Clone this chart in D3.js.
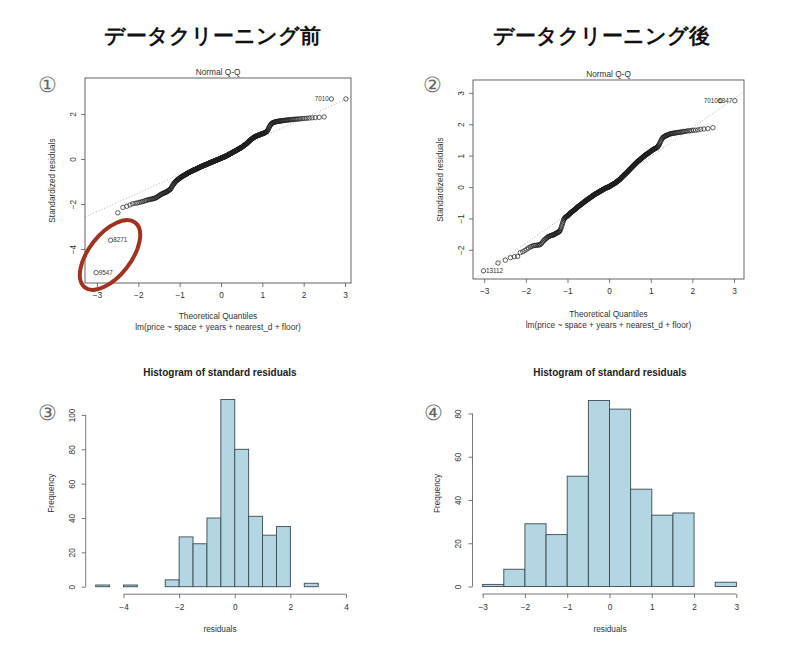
<!DOCTYPE html>
<html><head><meta charset="utf-8">
<script src="https://cdn.jsdelivr.net/npm/d3@7"></script>
<style>
body{margin:0;background:#fff}
svg{display:block}
text{font-family:"Liberation Sans",Arial,sans-serif}
</style>
</head><body>
<svg id="chart" width="800" height="650"></svg>
<script>
// ---------- DATA ----------
const panelTitles = ["データクリーニング前", "データクリーニング後"];
const panelNumbers = ["①", "②", "③", "④"];

// sorted standardized residuals, before cleaning (n = 397)
const residualsBefore = [
-5.05,-3.61,-2.39,-2.15,-2.10,-2.04,-1.99,-1.97,-1.95,-1.93,
-1.91,-1.89,-1.87,-1.85,-1.83,-1.81,-1.80,-1.79,-1.78,-1.77,
-1.76,-1.75,-1.73,-1.71,-1.69,-1.66,-1.63,-1.61,-1.59,-1.57,
-1.55,-1.53,-1.52,-1.51,-1.50,-1.48,-1.47,-1.46,-1.44,-1.42,
-1.40,-1.38,-1.37,-1.35,-1.32,-1.28,-1.24,-1.20,-1.16,-1.13,
-1.10,-1.07,-1.04,-1.01,-0.99,-0.97,-0.95,-0.93,-0.92,-0.90,
-0.89,-0.88,-0.86,-0.85,-0.83,-0.82,-0.81,-0.79,-0.78,-0.77,
-0.76,-0.75,-0.74,-0.73,-0.72,-0.71,-0.70,-0.69,-0.68,-0.67,
-0.66,-0.65,-0.64,-0.63,-0.62,-0.61,-0.60,-0.60,-0.59,-0.58,
-0.57,-0.56,-0.56,-0.55,-0.54,-0.53,-0.53,-0.52,-0.51,-0.50,
-0.50,-0.49,-0.49,-0.48,-0.47,-0.47,-0.46,-0.45,-0.45,-0.44,
-0.43,-0.43,-0.42,-0.41,-0.41,-0.40,-0.39,-0.39,-0.38,-0.37,
-0.37,-0.36,-0.35,-0.35,-0.34,-0.34,-0.33,-0.32,-0.32,-0.31,
-0.31,-0.30,-0.30,-0.29,-0.29,-0.28,-0.28,-0.27,-0.27,-0.26,
-0.26,-0.25,-0.25,-0.24,-0.24,-0.23,-0.22,-0.22,-0.21,-0.21,
-0.20,-0.20,-0.19,-0.19,-0.18,-0.18,-0.17,-0.17,-0.16,-0.16,
-0.15,-0.15,-0.14,-0.14,-0.13,-0.13,-0.12,-0.12,-0.11,-0.11,
-0.10,-0.10,-0.09,-0.09,-0.08,-0.08,-0.07,-0.07,-0.06,-0.06,
-0.05,-0.05,-0.04,-0.04,-0.03,-0.03,-0.03,-0.02,-0.02,-0.01,
-0.01,0.00,0.00,0.01,0.01,0.02,0.02,0.03,0.03,
0.04,0.04,0.05,0.05,0.06,0.06,0.07,0.07,0.08,0.08,
0.09,0.09,0.10,0.10,0.11,0.11,0.12,0.13,0.13,0.14,
0.14,0.15,0.16,0.16,0.17,0.17,0.18,0.19,0.19,0.20,
0.21,0.21,0.22,0.23,0.23,0.24,0.25,0.25,0.26,0.27,
0.27,0.28,0.29,0.29,0.30,0.31,0.31,0.32,0.33,0.33,
0.34,0.35,0.35,0.36,0.37,0.37,0.38,0.39,0.39,0.40,
0.41,0.42,0.42,0.43,0.44,0.45,0.45,0.46,0.47,0.48,
0.48,0.49,0.50,0.51,0.51,0.52,0.53,0.54,0.55,0.56,
0.57,0.58,0.59,0.60,0.61,0.62,0.63,0.64,0.65,0.66,
0.67,0.68,0.70,0.71,0.72,0.74,0.75,0.76,0.78,0.79,
0.80,0.82,0.83,0.84,0.85,0.87,0.88,0.89,0.90,0.92,
0.93,0.94,0.95,0.96,0.97,0.98,0.99,1.00,1.01,1.02,
1.02,1.03,1.04,1.04,1.05,1.06,1.06,1.07,1.08,1.09,
1.09,1.10,1.11,1.11,1.12,1.13,1.13,1.14,1.15,1.16,
1.17,1.18,1.19,1.20,1.22,1.24,
1.27,1.31,1.36,1.41,1.45,
1.49,1.53,1.56,1.58,1.60,
1.61,1.62,1.63,1.64,1.65,
1.66,1.66,1.67,1.67,1.68,
1.68,1.69,1.69,1.70,1.70,
1.71,1.71,1.72,1.72,1.73,
1.73,1.74,1.74,1.75,1.75,
1.76,1.76,1.77,1.77,1.78,
1.78,1.79,1.80,1.80,1.81,
1.82,1.83,1.84,1.85,1.87,
2.67,2.67
];

// sorted standardized residuals, after cleaning (n = 395)
const residualsAfter = [
-2.67,-2.42,-2.33,-2.25,-2.22,-2.21,-2.09,-2.06,-2.02,-1.98,
-1.94,-1.91,-1.89,-1.87,-1.86,-1.86,-1.85,-1.85,-1.84,-1.83,
-1.80,-1.76,-1.72,-1.69,-1.67,-1.64,-1.62,-1.60,-1.58,-1.57,
-1.56,-1.55,-1.54,-1.54,-1.53,-1.52,-1.52,-1.51,
-1.49,-1.48,-1.47,-1.46,-1.45,-1.44,-1.43,
-1.42,-1.40,-1.37,-1.33,-1.28,
-1.23,-1.18,-1.13,-1.08,-1.04,
-1.01,-0.99,-0.97,-0.96,-0.95,-0.94,-0.93,
-0.92,-0.91,-0.90,-0.88,-0.87,-0.85,-0.84,-0.83,
-0.82,-0.81,-0.80,-0.79,-0.78,-0.77,-0.76,-0.75,-0.74,-0.73,
-0.72,-0.71,-0.70,-0.69,-0.68,-0.67,-0.66,-0.65,-0.64,-0.63,
-0.62,-0.61,-0.61,-0.60,-0.59,-0.58,-0.57,-0.56,-0.56,-0.55,
-0.54,-0.53,-0.52,-0.52,-0.51,-0.50,-0.49,-0.48,-0.48,-0.47,
-0.46,-0.45,-0.45,-0.44,-0.43,-0.42,-0.42,-0.41,-0.40,-0.40,
-0.39,-0.38,-0.38,-0.37,-0.36,-0.36,-0.35,-0.34,-0.34,-0.33,
-0.32,-0.32,-0.31,-0.30,-0.30,-0.29,-0.28,-0.28,-0.27,-0.26,
-0.26,-0.25,-0.25,-0.24,-0.23,-0.23,-0.22,-0.22,-0.21,-0.21,
-0.20,-0.20,-0.19,-0.19,-0.18,-0.18,-0.17,-0.17,-0.16,-0.16,
-0.15,-0.15,-0.14,-0.14,-0.13,-0.13,-0.12,-0.12,-0.11,-0.11,
-0.10,-0.10,-0.09,-0.09,-0.08,-0.08,-0.07,-0.07,-0.06,-0.06,
-0.05,-0.05,-0.04,-0.04,-0.04,-0.03,-0.03,-0.02,-0.02,-0.02,
-0.01,-0.01,-0.01,0.00,0.00,0.00,0.01,0.01,0.02,
0.02,0.03,0.03,0.04,0.04,0.05,0.05,0.06,0.06,0.07,
0.07,0.08,0.08,0.09,0.09,0.10,0.10,0.11,0.11,0.12,
0.12,0.13,0.14,0.14,0.15,0.15,0.16,0.17,0.17,0.18,
0.19,0.19,0.20,0.21,0.21,0.22,0.23,0.24,0.24,0.25,
0.26,0.27,0.28,0.29,0.30,0.31,0.31,0.32,0.33,0.34,
0.35,0.36,0.37,0.38,0.38,0.39,0.40,0.41,0.42,0.43,
0.44,0.44,0.45,0.46,0.47,0.48,0.49,0.50,0.51,0.52,
0.53,0.54,0.55,0.56,0.57,0.58,0.59,0.60,0.61,0.62,
0.63,0.64,0.65,0.66,0.67,0.68,0.69,0.70,0.71,0.72,
0.73,0.74,0.75,0.76,0.77,0.78,0.79,0.80,0.81,0.82,
0.83,0.84,0.85,0.85,0.86,0.87,0.88,0.89,0.90,0.91,
0.92,0.93,0.94,0.95,0.96,0.97,0.98,0.99,1.00,1.01,
1.02,1.03,1.04,1.05,1.05,1.06,1.07,1.08,1.09,1.10,
1.11,1.12,1.13,1.14,1.15,1.16,1.17,1.18,1.19,1.20,
1.21,1.22,1.22,1.23,1.24,1.25,1.26,1.28,1.30,1.32,
1.35,1.38,1.42,1.46,1.50,1.53,
1.56,1.58,1.60,1.61,1.62,1.63,
1.64,1.65,1.66,1.67,1.68,1.69,
1.70,1.70,1.71,1.71,1.72,1.72,
1.73,1.73,1.74,1.74,1.75,1.75,
1.76,1.77,1.77,1.78,1.79,1.79,
1.80,1.81,1.81,1.82,1.84,
1.85,1.86,1.89,
2.75,2.75
];

// labelled observations: rank in sorted order (1-based) and id
const labelRanksBefore = [1, 2, 396];
const labelIdsBefore = ["9547", "8271", "7010"];
const labelRanksAfter = [1, 394, 395];
const labelIdsAfter = ["13112", "7010", "6347"];

// reference line [intercept, slope]
const qqLineBefore = [0.15, 0.83];
const qqLineAfter = [0.05, 0.92];

const qqXTicks = [-3, -2, -1, 0, 1, 2, 3];
const qqYTicksBefore = [-4, -2, 0, 2];
const qqYTicksAfter = [-2, -1, 0, 1, 2, 3];

// histograms
const histBreaksBefore = [-5,-4.5,-4,-3.5,-3,-2.5,-2,-1.5,-1,-0.5,0,0.5,1,1.5,2,2.5,3,3.5,4];
const histCountsBefore = [1,0,1,0,0,4,29,25,40,109,80,41,30,35,0,2,0,0];
const histBreaksAfter = [-3,-2.5,-2,-1.5,-1,-0.5,0,0.5,1,1.5,2,2.5,3];
const histCountsAfter = [1,8,29,24,51,86,82,45,33,34,0,2];
const histXTicksBefore = [-4, -2, 0, 2, 4];
const histYTicksBefore = [0, 20, 40, 60, 80, 100];
const histXTicksAfter = [-3, -2, -1, 0, 1, 2, 3];
const histYTicksAfter = [0, 20, 40, 60, 80];

const qqTitle = "Normal Q-Q";
const qqXLabel = "Theoretical Quantiles";
const qqSub = "lm(price ~ space + years + nearest_d + floor)";
const qqYLabel = "Standardized residuals";
const histTitle = "Histogram of standard residuals";
const histXLabel = "residuals";
const histYLabel = "Frequency";

// ---------- helpers ----------
function qnorm(p){
  const a=[-3.969683028665376e+01,2.209460984245205e+02,-2.759285104469687e+02,1.383577518672690e+02,-3.066479806614716e+01,2.506628277459239e+00];
  const b=[-5.447609879822406e+01,1.615858368580409e+02,-1.556989798598866e+02,6.680131188771972e+01,-1.328068155288572e+01];
  const c=[-7.784894002430293e-03,-3.223964580411365e-01,-2.400758277161838e+00,-2.549732539343734e+00,4.374664141464968e+00,2.938163982698783e+00];
  const d=[7.784695709041462e-03,3.224671290700398e-01,2.445134137142996e+00,3.754408661907416e+00];
  const pl=0.02425; let q,r;
  if(p<pl){q=Math.sqrt(-2*Math.log(p));return (((((c[0]*q+c[1])*q+c[2])*q+c[3])*q+c[4])*q+c[5])/((((d[0]*q+d[1])*q+d[2])*q+d[3])*q+1);}
  if(p<=1-pl){q=p-0.5;r=q*q;return (((((a[0]*r+a[1])*r+a[2])*r+a[3])*r+a[4])*r+a[5])*q/(((((b[0]*r+b[1])*r+b[2])*r+b[3])*r+b[4])*r+1);}
  q=Math.sqrt(-2*Math.log(1-p));return -(((((c[0]*q+c[1])*q+c[2])*q+c[3])*q+c[4])*q+c[5])/((((d[0]*q+d[1])*q+d[2])*q+d[3])*q+1);
}

const svg = d3.select("#chart");
const AX = "#555", TX = "#333", FS = 8.3;

function rotatedYLabels(axisG, dist){
  axisG.selectAll(".tick text")
    .attr("x", null).attr("y", 0).attr("dy", "0.35em")
    .attr("text-anchor", "middle")
    .attr("transform", `translate(${-dist},0) rotate(-90)`);
}
function styleAxis(axisG){
  axisG.select(".domain").remove();
  axisG.selectAll(".tick line").attr("stroke", AX).attr("stroke-width", 0.8);
  axisG.selectAll(".tick text").attr("fill", TX).attr("font-size", FS)
    .attr("font-family", '"Liberation Sans", Arial, sans-serif');
}

function drawQQ(cfg){
  const g = svg.append("g");
  const x = d3.scaleLinear().domain(cfg.xDom).range([cfg.x0, cfg.x1]);
  const y = d3.scaleLinear().domain(cfg.yDom).range([cfg.y1, cfg.y0]);
  const n = cfg.res.length;
  const pts = cfg.res.map((v, i) => ({q: qnorm((i + 1 - 0.5) / n), r: v}));

  const clipId = "clip" + cfg.id;
  g.append("clipPath").attr("id", clipId).append("rect")
    .attr("x", cfg.x0).attr("y", cfg.y0).attr("width", cfg.x1 - cfg.x0).attr("height", cfg.y1 - cfg.y0);
  const [b0, b1] = cfg.line;
  g.append("line").attr("clip-path", `url(#${clipId})`)
    .attr("x1", x(cfg.xDom[0])).attr("y1", y(b0 + b1 * cfg.xDom[0]))
    .attr("x2", x(cfg.xDom[1])).attr("y2", y(b0 + b1 * cfg.xDom[1]))
    .attr("stroke", "#9a9a9a").attr("stroke-width", 0.8).attr("stroke-dasharray", "1,2");

  g.append("g").selectAll("circle").data(pts).join("circle")
    .attr("cx", d => x(d.q)).attr("cy", d => y(d.r)).attr("r", 2.2)
    .attr("fill", "none").attr("stroke", "#1e1e1e").attr("stroke-width", 0.7);

  cfg.ranks.forEach((rk, k) => {
    const p = pts[rk - 1];
    const right = p.q < 0;
    g.append("text").attr("x", x(p.q) + (right ? 2.6 : -2.6)).attr("y", y(p.r)).attr("dy", "0.35em")
      .attr("text-anchor", right ? "start" : "end").attr("font-size", 6.3).attr("fill", TX)
      .text(cfg.ids[k]);
  });

  g.append("rect").attr("x", cfg.x0).attr("y", cfg.y0).attr("width", cfg.x1 - cfg.x0).attr("height", cfg.y1 - cfg.y0)
    .attr("fill", "none").attr("stroke", AX).attr("stroke-width", 0.9);

  const xa = g.append("g").attr("transform", `translate(0,${cfg.y1})`)
    .call(d3.axisBottom(x).tickValues(qqXTicks).tickSize(4).tickPadding(5).tickFormat(d3.format("d")));
  styleAxis(xa);
  const ya = g.append("g").attr("transform", `translate(${cfg.x0},0)`)
    .call(d3.axisLeft(y).tickValues(cfg.yTicks).tickSize(4).tickFormat(d3.format("d")));
  styleAxis(ya); rotatedYLabels(ya, 12);

  const cx = (cfg.x0 + cfg.x1) / 2;
  g.append("text").attr("x", cx).attr("y", cfg.titleY).attr("dy", "0.35em").attr("text-anchor", "middle")
    .attr("font-size", FS).attr("fill", TX).text(qqTitle);
  g.append("text").attr("x", cx).attr("y", cfg.xlabY).attr("dy", "0.35em").attr("text-anchor", "middle")
    .attr("font-size", FS).attr("fill", TX).text(qqXLabel);
  g.append("text").attr("x", cx).attr("y", cfg.xlabY + 10.5).attr("dy", "0.35em").attr("text-anchor", "middle")
    .attr("font-size", FS).attr("fill", TX).text(qqSub);
  g.append("text").attr("transform", `translate(${cfg.x0 - 33},${(cfg.y0 + cfg.y1) / 2}) rotate(-90)`)
    .attr("dy", "0.35em").attr("text-anchor", "middle").attr("font-size", FS).attr("fill", TX).text(qqYLabel);
}

function drawHist(cfg){
  const g = svg.append("g");
  const x = d3.scaleLinear().domain(cfg.xDom).range([cfg.x0, cfg.x1]);
  const y = d3.scaleLinear().domain(cfg.yDom).range([cfg.y1, cfg.y0]);
  const bins = cfg.counts.map((c, i) => ({a: cfg.breaks[i], b: cfg.breaks[i + 1], c}));
  g.append("g").selectAll("rect").data(bins).join("rect")
    .attr("x", d => x(d.a)).attr("width", d => x(d.b) - x(d.a))
    .attr("y", d => y(d.c)).attr("height", d => y(0) - y(d.c))
    .attr("fill", "#b3d6e2").attr("stroke", "#3c4a52").attr("stroke-width", 0.9);

  const xt = cfg.xTicks, yt = cfg.yTicks;
  const xa = g.append("g").attr("transform", `translate(0,${cfg.y1})`)
    .call(d3.axisBottom(x).tickValues(xt).tickSize(4).tickPadding(6).tickFormat(d3.format("d")));
  styleAxis(xa);
  xa.append("line").attr("x1", x(xt[0])).attr("x2", x(xt[xt.length - 1])).attr("stroke", AX).attr("stroke-width", 0.8);
  const ya = g.append("g").attr("transform", `translate(${cfg.x0},0)`)
    .call(d3.axisLeft(y).tickValues(yt).tickSize(4).tickFormat(d3.format("d")));
  styleAxis(ya); rotatedYLabels(ya, 14);
  ya.append("line").attr("y1", y(yt[0])).attr("y2", y(yt[yt.length - 1])).attr("stroke", AX).attr("stroke-width", 0.8);

  const cx = cfg.titleX;
  g.append("text").attr("x", cx).attr("y", 372.5).attr("dy", "0.35em").attr("text-anchor", "middle")
    .attr("font-size", 10).attr("font-weight", "bold").attr("fill", "#222").text(histTitle);
  g.append("text").attr("x", cx).attr("y", 629).attr("dy", "0.35em").attr("text-anchor", "middle")
    .attr("font-size", FS).attr("fill", TX).text(histXLabel);
  g.append("text").attr("transform", `translate(${cfg.x0 - 35},${(cfg.y0 + cfg.y1) / 2}) rotate(-90)`)
    .attr("dy", "0.35em").attr("text-anchor", "middle").attr("font-size", FS).attr("fill", TX).text(histYLabel);
}

// ---------- panels ----------
drawQQ({id: 1, res: residualsBefore, ranks: labelRanksBefore, ids: labelIdsBefore, line: qqLineBefore,
  yTicks: qqYTicksBefore, x0: 85, x1: 351, y0: 78, y1: 283, xDom: [-3.29, 3.145], yDom: [-5.51, 3.6],
  titleY: 72, xlabY: 316.5});
drawQQ({id: 2, res: residualsAfter, ranks: labelRanksAfter, ids: labelIdsAfter, line: qqLineAfter,
  yTicks: qqYTicksAfter, x0: 473, x1: 744, y0: 80, y1: 279, xDom: [-3.27, 3.24], yDom: [-2.93, 3.41],
  titleY: 74, xlabY: 314.5});
drawHist({breaks: histBreaksBefore, counts: histCountsBefore, xTicks: histXTicksBefore, yTicks: histYTicksBefore,
  x0: 85.7, x1: 356, y0: 392, y1: 594.2, xDom: [-5.36, 4.36], yDom: [-4.36, 113.36], titleX: 220});
drawHist({breaks: histBreaksAfter, counts: histCountsAfter, xTicks: histXTicksAfter, yTicks: histYTicksAfter,
  x0: 472.5, x1: 746.5, y0: 393, y1: 594, xDom: [-3.24, 3.24], yDom: [-3.44, 89.44], titleX: 610});

// headings
const JP = '"Noto Sans CJK JP", "Noto Sans CJK SC", sans-serif';
[[212, panelTitles[0]], [601, panelTitles[1]]].forEach(([cx, t]) => {
  svg.append("text").attr("x", cx).attr("y", 36).attr("dy", "0.35em").attr("text-anchor", "middle")
    .attr("font-family", JP).attr("font-weight", "bold").attr("font-size", 21).attr("fill", "#111").text(t);
});
[[47, 85], [432, 85], [47, 413], [433, 413]].forEach(([cx, cy], i) => {
  svg.append("text").attr("x", cx).attr("y", cy).attr("dy", "0.35em").attr("text-anchor", "middle")
    .attr("font-family", JP).attr("font-weight", 300).attr("font-size", 21).attr("fill", "#666").text(panelNumbers[i]);
});

// red annotation ellipse around the two outliers
svg.append("ellipse").attr("cx", 110).attr("cy", 255).attr("rx", 41).attr("ry", 21)
  .attr("transform", "rotate(-52,110,255)")
  .attr("fill", "none").attr("stroke", "#a0321f").attr("stroke-width", 4);
</script>
</body></html>
